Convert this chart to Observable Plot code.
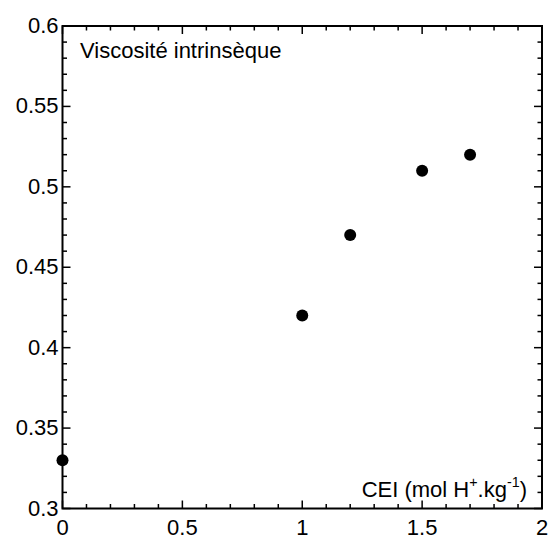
<!DOCTYPE html>
<html>
<head>
<meta charset="utf-8">
<script src="https://cdn.jsdelivr.net/npm/d3@7"></script>
<script src="https://cdn.jsdelivr.net/npm/@observablehq/plot@0.6"></script>
<style>
  html, body { margin: 0; padding: 0; background: #fff; }
</style>
</head>
<body>
<div id="chart"></div>
<script>
const cei = [0, 1, 1.2, 1.5, 1.7];
const viscosity = [0.33, 0.42, 0.47, 0.51, 0.52];
const xMajor = [0, 0.5, 1, 1.5, 2];
const xMajorLabels = ["0", "0.5", "1", "1.5", "2"];
const xMinor = [0.1, 0.2, 0.3, 0.4, 0.6, 0.7, 0.8, 0.9, 1.1, 1.2, 1.3, 1.4, 1.6, 1.7, 1.8, 1.9];
const yMajor = [0.3, 0.35, 0.4, 0.45, 0.5, 0.55, 0.6];
const yMajorLabels = ["0.3", "0.35", "0.4", "0.45", "0.5", "0.55", "0.6"];
const yMinor = [0.31, 0.32, 0.33, 0.34, 0.36, 0.37, 0.38, 0.39, 0.41, 0.42, 0.43, 0.44, 0.46, 0.47, 0.48, 0.49, 0.51, 0.52, 0.53, 0.54, 0.56, 0.57, 0.58, 0.59];
const title = "Viscosité intrinsèque";
const xLabelParts = [["CEI (mol H", false], ["+", true], [".kg", false], ["-1", true], [")", false]];
const xLabel = xLabelParts.map(p => p[0]).join("");

const data = cei.map((x, i) => ({x, y: viscosity[i]}));
const fmtX = d => xMajorLabels[xMajor.indexOf(d)];
const fmtY = d => yMajorLabels[yMajor.indexOf(d)];
const FS = 22;
const MAJ = 8, MIN = 4.5;
const xMin = 0, xMax = 2, yMin = 0.3, yMax = 0.6;

// tick-line symbols (pixel lengths, drawn from the anchor point inward)
const seg = (dx, dy) => ({draw(ctx) { ctx.moveTo(0, 0); ctx.lineTo(dx, dy); }});
const tickStyle = {stroke: "#000", strokeWidth: 1.5, fill: "none"};

const chart = Plot.plot({
  width: 549,
  height: 538,
  marginLeft: 62,
  marginRight: 7.5,
  marginTop: 25.5,
  marginBottom: 30,
  style: {fontFamily: "'Liberation Sans', Arial, sans-serif", color: "#000", background: "#fff"},
  x: {domain: [xMin, xMax], axis: null},
  y: {domain: [yMin, yMax], axis: null},
  marks: [
    // inward ticks on all four sides
    Plot.dot(xMajor, {x: d => d, y: yMin, symbol: seg(0, -MAJ), ...tickStyle}),
    Plot.dot(xMinor, {x: d => d, y: yMin, symbol: seg(0, -MIN), ...tickStyle}),
    Plot.dot(xMajor, {x: d => d, y: yMax, symbol: seg(0, MAJ), ...tickStyle}),
    Plot.dot(xMinor, {x: d => d, y: yMax, symbol: seg(0, MIN), ...tickStyle}),
    Plot.dot(yMajor, {y: d => d, x: xMin, symbol: seg(MAJ, 0), ...tickStyle}),
    Plot.dot(yMinor, {y: d => d, x: xMin, symbol: seg(MIN, 0), ...tickStyle}),
    Plot.dot(yMajor, {y: d => d, x: xMax, symbol: seg(-MAJ, 0), ...tickStyle}),
    Plot.dot(yMinor, {y: d => d, x: xMax, symbol: seg(-MIN, 0), ...tickStyle}),
    // tick labels
    Plot.axisX({anchor: "bottom", ticks: xMajor, tickSize: 0, tickPadding: 11, tickFormat: fmtX, fontSize: FS, label: null}),
    Plot.axisY({anchor: "left", ticks: yMajor, tickSize: 0, tickPadding: 4, tickFormat: fmtY, fontSize: FS, label: null}),
    Plot.frame({stroke: "#000", strokeWidth: 2}),
    Plot.dot(data, {x: "x", y: "y", r: 6, fill: "#000", stroke: "none"}),
    Plot.text([title], {frameAnchor: "top-left", text: d => d, dx: 17.5, dy: 16, lineAnchor: "top", textAnchor: "start", fontSize: FS, fill: "#000"}),
    Plot.text([xLabel], {frameAnchor: "bottom-right", text: d => d, dx: -15, dy: -12, lineAnchor: "bottom", textAnchor: "end", fontSize: FS, fill: "#000"})
  ]
});

// render the axis label with true superscripts
d3.select(chart).selectAll("text").filter(function() { return this.textContent === xLabel; }).each(function() {
  const t = d3.select(this);
  t.text(null);
  let raised = false;
  xLabelParts.forEach(([s, sup]) => {
    const span = t.append("tspan").text(s);
    if (sup) {
      span.attr("font-size", "0.65em");
      if (!raised) { span.attr("dy", (-0.45 * FS) + "px"); raised = true; }
    } else if (raised) {
      span.attr("dy", (0.45 * FS) + "px");
      raised = false;
    }
  });
});
document.getElementById("chart").appendChild(chart);
</script>
</body>
</html>
